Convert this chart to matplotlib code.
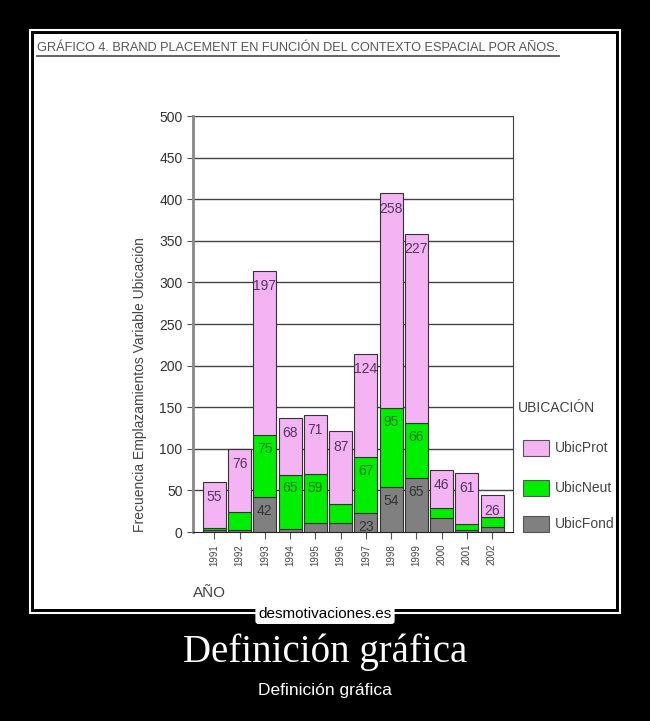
import matplotlib.pyplot as plt
import numpy as np
from matplotlib.patches import Rectangle

years = ["1991", "1992", "1993", "1994", "1995", "1996",
         "1997", "1998", "1999", "2000", "2001", "2002"]
ubic_fond = [2, 2, 42, 4, 11, 11, 23, 54, 65, 17, 2, 6]
ubic_neut = [3, 22, 75, 65, 59, 23, 67, 95, 66, 12, 8, 12]
ubic_prot = [55, 76, 197, 68, 71, 87, 124, 258, 227, 46, 61, 26]
# which segments carry a printed value
show_fond = [False, False, True, False, False, False, True, True, True, False, False, False]
show_neut = [False, False, True, True, True, False, True, True, True, False, False, False]
show_prot = [True] * 12

series_names = ["UbicProt", "UbicNeut", "UbicFond"]
col_prot = "#f4b4f4"
col_neut = "#00ee00"
col_fond = "#808080"

plt.rcParams["font.family"] = ["Liberation Sans", "DejaVu Sans"]

W, H = 650, 721
fig = plt.figure(figsize=(6.5, 7.21), dpi=100)
fig.patch.set_facecolor("black")


def px(x, y):
    return x / W, 1 - y / H


# poster frame (behind the axes)
fig.add_artist(Rectangle(px(30, 613), 590 / W, 583 / H, transform=fig.transFigure,
                         fill=False, edgecolor="white", lw=1.5, zorder=-10))
fig.add_artist(Rectangle(px(34, 609), 582 / W, 575 / H, transform=fig.transFigure,
                         facecolor="white", edgecolor="none", zorder=-9))

# chart title, underlined
fig.text(*px(37, 48), "GRÁFICO 4. BRAND PLACEMENT EN FUNCIÓN DEL CONTEXTO ESPACIAL POR AÑOS.",
         fontsize=9.2, color="#555555", va="center", ha="left")
fig.add_artist(plt.Line2D([37 / W, 559 / W], [1 - 56 / H, 1 - 56 / H], color="#555555", lw=1.3))

ax = fig.add_axes([193 / W, 1 - 532 / H, 320 / W, 416 / H])
ax.set_facecolor("white")
x = np.arange(len(years))
fond = np.array(ubic_fond)
neut = np.array(ubic_neut)
prot = np.array(ubic_prot)

for v in range(50, 501, 50):
    ax.axhline(v, color="#444444", lw=1.0, zorder=1)

w = 0.91
ax.bar(x, fond, w, color=col_fond, edgecolor="#333333", lw=0.8, zorder=3)
ax.bar(x, neut, w, bottom=fond, color=col_neut, edgecolor="#333333", lw=0.8, zorder=3)
ax.bar(x, prot, w, bottom=fond + neut, color=col_prot, edgecolor="#333333", lw=0.8, zorder=3)

for i in range(len(years)):
    if show_fond[i]:
        ax.annotate(str(fond[i]), (x[i], fond[i]), xytext=(0, -10), textcoords="offset points",
                    ha="center", va="center", fontsize=10, color="#333333", zorder=4)
    if show_neut[i]:
        ax.annotate(str(neut[i]), (x[i], fond[i] + neut[i]), xytext=(0, -10), textcoords="offset points",
                    ha="center", va="center", fontsize=10, color="#117711", zorder=4)
    if show_prot[i]:
        ax.annotate(str(prot[i]), (x[i], fond[i] + neut[i] + prot[i]), xytext=(0, -11),
                    textcoords="offset points", ha="center", va="center", fontsize=10,
                    color="#553366", zorder=4)

ax.set_xlim(-0.85, 11.83)
ax.set_ylim(0, 500)
ax.set_yticks(range(0, 501, 50))
ax.set_xticks(x)
ax.set_xticklabels(years, rotation=90, fontsize=7, color="#444444")
ax.tick_params(axis="y", labelsize=10, labelcolor="#333333", length=4, color="#555555")
ax.tick_params(axis="x", length=5, color="#555555")
ax.spines["left"].set_color("#888888")
ax.spines["left"].set_linewidth(2)
ax.spines["bottom"].set_color("#222222")
ax.spines["right"].set_color("#444444")
ax.spines["top"].set_visible(False)

fig.text(*px(140, 385), "Frecuencia Emplazamientos Variable Ubicación", rotation=90,
         fontsize=10, color="#444444", ha="center", va="center")
fig.text(*px(193, 593), "AÑO", fontsize=11, color="#444444", ha="left", va="center")

# legend
fig.text(*px(518, 408), "UBICACIÓN", fontsize=10, color="#444444", ha="left", va="center")
for name, col, yy in zip(series_names, [col_prot, col_neut, col_fond], [448, 488, 524]):
    fig.add_artist(Rectangle(px(523, yy + 8), 26 / W, 16 / H, transform=fig.transFigure,
                             facecolor=col, edgecolor="#555555", lw=0.8))
    fig.text(*px(555, yy), name, fontsize=10, color="#444444", ha="left", va="center")

# poster caption
fig.text(*px(325, 614), "desmotivaciones.es", fontsize=11, color="black", ha="center", va="center",
         bbox=dict(boxstyle="round,pad=0.15", facecolor="white", edgecolor="white"))
fig.text(*px(325, 652), "Definición gráfica", family=["Liberation Serif", "DejaVu Serif"],
         fontsize=28, color="white", ha="center", va="center")
fig.text(*px(325, 690), "Definición gráfica", fontsize=12.5, color="white", ha="center", va="center")

fig.savefig("out.png", dpi=100, facecolor="black")
